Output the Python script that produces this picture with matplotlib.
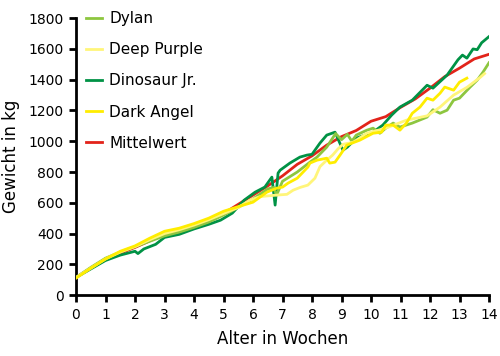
import matplotlib.pyplot as plt

# Wochen / Gewicht (kg) je Kalb
dylan_w = [0, 0.5, 1, 1.5, 2, 2.5, 3, 3.5, 4, 4.5, 5, 5.5, 6, 6.5, 6.7, 6.8, 7, 7.5, 7.93, 8.17,
           8.5, 8.8, 9.0, 9.2, 9.35, 9.5, 9.86, 10.07, 10.3, 10.5, 10.75, 10.98, 11.4, 11.9, 12.1,
           12.34, 12.58, 12.8, 13.0, 13.36, 13.6, 13.8, 14]
dylan_kg = [115, 180, 240, 280, 315, 350, 385, 410, 440, 475, 520, 570, 625, 690, 700, 650, 740, 800,
            864, 897, 962, 1050, 1010, 1045, 1000, 1040, 1072, 1085, 1052, 1085, 1118, 1092, 1118,
            1157, 1205, 1182, 1202, 1267, 1280, 1352, 1397, 1450, 1510]

deep_w = [0, 0.5, 1, 1.5, 2, 2.5, 3, 3.5, 4, 4.5, 5, 5.5, 5.9, 6.24, 6.5, 6.8, 7.15, 7.36, 7.6,
          7.86, 8.1, 8.27, 8.5, 8.7, 8.88, 9.05, 9.4, 9.86, 10.5, 11.2, 11.9, 12.34, 12.8, 13.25,
          13.7, 13.85]
deep_kg = [115, 175, 235, 280, 315, 360, 400, 425, 455, 490, 530, 570, 617, 640, 645, 650, 655, 682,
           700, 715, 760, 835, 877, 910, 950, 980, 994, 1052, 1085, 1137, 1165, 1222, 1300, 1350,
           1415, 1440]

dino_w = [0, 0.5, 1, 1.5, 1.8, 2.0, 2.1, 2.3, 2.7, 3.0, 3.5, 4.0, 4.5, 4.9, 5.3, 5.7, 6.07, 6.4,
          6.64, 6.75, 6.85, 6.92, 7.25, 7.59, 7.83, 8.0, 8.27, 8.5, 8.78, 8.9, 9.05, 9.2, 9.5,
          10.07, 10.4, 10.7, 10.98, 11.4, 11.9, 12.1, 12.58, 12.95, 13.1, 13.25, 13.46, 13.6,
          13.75, 14]
dino_kg = [115, 170, 225, 260, 275, 285, 270, 300, 330, 375, 395, 430, 460, 487, 533, 617, 669, 702,
           767, 585, 793, 812, 858, 897, 910, 915, 988, 1040, 1059, 1007, 942, 962, 1020,
           1059, 1105, 1170, 1222, 1267, 1364, 1345, 1430, 1530, 1560, 1540, 1600, 1595,
           1640, 1680]

angel_w = [0, 0.5, 1, 1.5, 2, 2.5, 3, 3.5, 4, 4.5, 5, 5.5, 6, 6.47, 6.8, 7.0, 7.19, 7.5, 7.86,
           7.93, 8.17, 8.5, 8.6, 8.78, 8.95, 9.18, 9.62, 10.07, 10.36, 10.5, 10.75, 10.98, 11.2,
           11.4, 11.66, 11.9, 12.1, 12.34, 12.5, 12.8, 13.0, 13.25]
angel_kg = [110, 175, 235, 285, 320, 370, 415, 435, 465, 500, 545, 575, 604, 669, 695, 702, 728,
            760, 832, 858, 877, 890, 858, 864, 910, 975, 1007, 1052, 1059, 1105, 1105, 1072,
            1118, 1182, 1222, 1280, 1267, 1312, 1352, 1332, 1384, 1410]

mean_w = [0, 1, 2, 3, 4, 5, 6, 6.5, 7, 7.5, 8, 8.5, 9, 9.5, 10, 10.5, 11, 11.5, 12, 12.5, 13, 13.5, 14]
mean_kg = [115, 235, 310, 395, 455, 530, 650, 710, 775, 850, 905, 975, 1030, 1070, 1130, 1160,
           1220, 1275, 1345, 1420, 1475, 1535, 1565]

fig = plt.figure(figsize=(5, 3.56), dpi=100)
ax = fig.add_axes([0.152, 0.171, 0.826, 0.778])

lw = 2.0
l_mean, = ax.plot(mean_w, mean_kg, color='#e2231a', lw=lw, label='Mittelwert', zorder=2)
l_dino, = ax.plot(dino_w, dino_kg, color='#009245', lw=lw, label='Dinosaur Jr.', zorder=3)
l_dylan, = ax.plot(dylan_w, dylan_kg, color='#8dc63f', lw=lw, label='Dylan', zorder=4)
l_deep, = ax.plot(deep_w, deep_kg, color='#fff57a', lw=lw, label='Deep Purple', zorder=5)
l_angel, = ax.plot(angel_w, angel_kg, color='#ffed00', lw=lw, label='Dark Angel', zorder=6)

ax.set_xlim(0, 14)
ax.set_ylim(0, 1800)
ax.set_xticks(range(0, 15))
ax.set_yticks(range(0, 1801, 200))
for s in ['top', 'right']:
    ax.spines[s].set_visible(False)
for s in ['left', 'bottom']:
    ax.spines[s].set_linewidth(2)
ax.tick_params(direction='out', length=5, width=2, labelsize=10, pad=4)

ax.set_xlabel('Alter in Wochen', fontsize=12, labelpad=6)
ax.set_ylabel('Gewicht in kg', fontsize=12, labelpad=6)

ax.legend(handles=[l_dylan, l_deep, l_dino, l_angel, l_mean], loc='upper left',
          bbox_to_anchor=(-0.01, 1.074), frameon=False, fontsize=11, handlelength=1.05,
          labelspacing=1.05, handletextpad=0.5)

fig.savefig('out.png', dpi=100)
